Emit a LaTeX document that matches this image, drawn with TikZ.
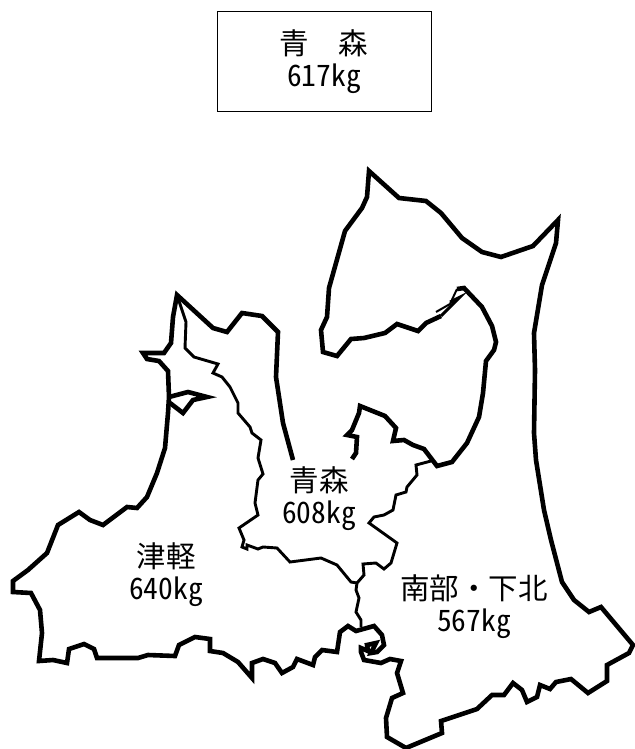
\documentclass[tikz,border=0pt]{standalone}
\usepackage{fontspec}
\setmainfont{Noto Sans CJK JP}[RawFeature={+hwid}]
\tikzset{
  coast/.style={draw=black,line width=4.6pt,line join=miter,miter limit=6},
  border/.style={draw=black,line width=2.9pt,line join=miter},
  label/.style={align=center,font=\fontsize{29.5}{32}\selectfont,inner sep=0pt,text=black},
  titlebox/.style={draw=black,line width=1pt,minimum width=214pt,minimum height=100pt,align=center,font=\fontsize{29.5}{32}\selectfont,inner sep=0pt}
}
\begin{document}
\begin{tikzpicture}[x=1pt,y=-1pt]
\useasboundingbox (0,0) rectangle (634,749);
% coast
\draw[coast] (293,460) -- (283,423) -- (276,377) -- (278,332) -- (262,316) -- (242,313) -- (227,332) -- (213,328) -- (177,295)
 -- (173,317) -- (171,343) -- (164,353) -- (143,353) -- (147,359) -- (159,361) -- (168,371) -- (169,397) -- (168,413) -- (165,448) -- (157,473) -- (147,497) -- (137,508) -- (127,507) -- (103,525) -- (90,520) -- (79,512) -- (58,525) -- (47,553) -- (28,570) -- (13,581) -- (13,592) -- (31,593) -- (40,610) -- (42,633) -- (39,661) -- (53,660) -- (67,663) -- (69,649) -- (84,644) -- (94,649) -- (97,658) -- (138,658) -- (148,655) -- (175,656) -- (179,645) -- (195,637) -- (210,639) -- (210,651) -- (223,653) -- (238,662) -- (252,678) -- (252,663) -- (263,659) -- (275,663) -- (282,673) -- (293,667) -- (297,659) -- (313,665) -- (315,657) -- (322,650) -- (337,652) -- (340,632) -- (348,626) -- (356,631) -- (374,626) -- (382,635) -- (384,645) -- (377,652) -- (371,653) -- (376,643) -- (367,645) -- (368,651) -- (361,648) -- (361,652) -- (364,660) -- (381,663) -- (390,659) -- (401,661) -- (397,673) -- (403,693) -- (392,698) -- (386,718) -- (387,737) -- (406,748) -- (442,733) -- (441,721) -- (477,709) -- (492,695) -- (504,695) -- (513,683) -- (522,690) -- (527,702) -- (537,697) -- (540,685) -- (550,689) -- (556,682) -- (571,679) -- (588,693) -- (607,681) -- (607,665) -- (629,653) -- (633,645) -- (601,607) -- (589,612) -- (574,600) -- (562,582) -- (551,540) -- (544,510) -- (536,460) -- (534,433) -- (535,370) -- (534,333) -- (542,285) -- (556,243) -- (558,220) -- (533,246) -- (501,257) -- (482,252) -- (462,238) -- (441,213) -- (426,201) -- (399,198) -- (369,171) -- (367,197) -- (362,208) -- (345,231) -- (329,288) -- (327,317) -- (321,330) -- (323,352) -- (337,356) -- (351,339) -- (364,338) -- (385,333) -- (397,324) -- (418,331) -- (426,323) -- (441,316);
\draw[border,line width=2pt] (436,312) -- (450,304) -- (457,289);
\draw[border] (441,316) -- (449,308) -- (460,297) -- (450,302);
\draw[coast] (457,289) -- (464,288) -- (482,307) -- (492,326) -- (496,342) -- (494,350) -- (486,361) -- (483,393) -- (479,417) -- (467,443) -- (452,462) -- (437,466) -- (424,449) -- (413,445) -- (404,440) -- (393,441) -- (396,428) -- (385,416) -- (360,406) -- (359,413) -- (352,430) -- (347,435) -- (357,437) -- (356,453) -- (352,459);
% bay
\draw[coast] (169,397) -- (188,392) -- (207,397) -- (193,400) -- (183,413) -- (170,403);
% internal borders
\draw[border] (431,461) -- (416,465) -- (417,475) -- (407,487) -- (406,492) -- (396,495) -- (393,510) -- (384,515) -- (374,517) -- (369,523) -- (397,543) -- (391,563) -- (384,569) -- (376,563) -- (363,564) -- (364,575) -- (357,583) -- (356,590) -- (359,598) -- (356,612) -- (361,620) -- (361,627);
\draw[border] (357,583) -- (351,582) -- (337,565) -- (321,558) -- (290,562) -- (277,548) -- (263,547) -- (258,549) -- (247,545) -- (247,549) -- (242,547) -- (244,540) -- (239,528) -- (258,515) -- (255,503) -- (258,480) -- (263,474) -- (258,458) -- (261,440) -- (252,433) -- (250,427) -- (238,413) -- (238,403) -- (230,387) -- (222,377) -- (213,373) -- (218,364) -- (194,357) -- (185,348) -- (186,322) -- (177,295);
% labels
\node[draw=none,titlebox,draw=black] (pref) at (324,62) {\raisebox{-2pt}{青\hspace{1em}森}\\\raisebox{-2pt}{617kg}};
\node[label] (aomori) at (319,499) {青森\\608kg};
\node[label] (tsugaru) at (166,575) {津軽\\640kg};
\node[label] (nanbu) at (474,607) {南部・下北\\567kg};
\end{tikzpicture}
\end{document}
